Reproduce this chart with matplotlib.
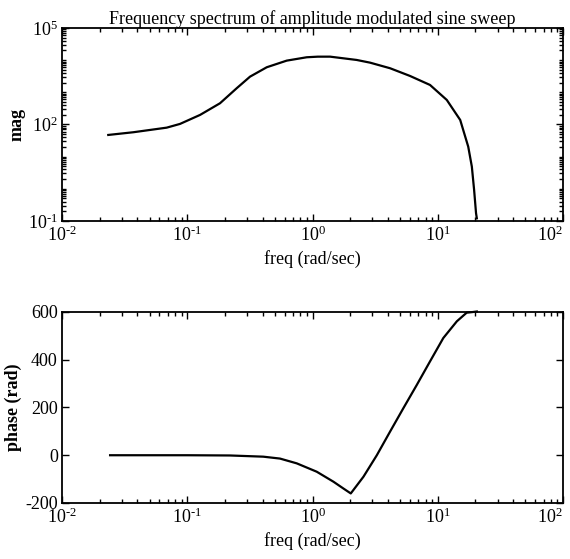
import matplotlib
matplotlib.use("Agg")
import matplotlib.pyplot as plt
from matplotlib.ticker import LogLocator, FixedLocator, NullFormatter, FuncFormatter
import numpy as np

plt.rcParams['font.family'] = ['Liberation Serif', 'DejaVu Serif']
plt.rcParams['mathtext.fontset'] = 'custom'
plt.rcParams['mathtext.rm'] = 'Liberation Serif'
plt.rcParams['mathtext.it'] = 'Liberation Serif:italic'
plt.rcParams['mathtext.bf'] = 'Liberation Serif:bold'
plt.rcParams['axes.unicode_minus'] = False

# ---- data ----
freq_mag = [0.0234, 0.0371, 0.0685, 0.0875, 0.1265, 0.1825, 0.248, 0.317, 0.431, 0.622,
            0.899, 1.10, 1.38, 2.25, 2.88, 4.16, 6.0, 8.67, 11.8, 15.1,
            17.5, 18.7, 19.5, 20.2, 20.5]
mag = [47.2, 57.3, 79.6, 104, 198, 456, 1336, 3064, 6000, 9640,
       12270, 12800, 12820, 10120, 8340, 5590, 3220, 1690, 578, 138,
       20.4, 4.9, 0.92, 0.174, 0.121]

freq_phase = [0.0242, 0.05, 0.1, 0.219, 0.404, 0.55, 0.748, 1.08, 1.47, 1.76, 2.02,
              2.55, 3.26, 4.16, 5.31, 6.79, 8.67, 11.07, 14.2, 17.0, 19.2, 20.5]
phase = [0, 0, 0, -1, -6, -14, -34, -69, -111, -139, -160,
         -90, 0, 99, 197, 294, 393, 491, 561, 597, 600, 602]

title = "Frequency spectrum of amplitude modulated sine sweep"
xlabel = "freq (rad/sec)"
ylabel_top = "mag"
ylabel_bot = "phase (rad)"
phase_ticks = [-200, 0, 200, 400, 600]
mag_ticks = [1e-1, 1e2, 1e5]

fig = plt.figure(figsize=(5.70, 5.59), dpi=100)
ax1 = fig.add_axes([0.1088, 0.6047, 0.879, 0.3453])
ax2 = fig.add_axes([0.1088, 0.1002, 0.879, 0.3417])

FS = 13


def pow_fmt(v, pos):
    e = int(round(np.log10(v)))
    if e < 0:
        return r'$10^{\text{-}%d}$' % (-e)
    return r'$10^{%d}$' % e


def style(ax):
    ax.tick_params(which='both', direction='in', top=True, right=True, labelsize=FS,
                   width=1.0, pad=3)
    ax.tick_params(which='major', length=5)
    ax.tick_params(which='minor', length=3)
    for s in ax.spines.values():
        s.set_linewidth(1.3)


# top: magnitude
ax1.loglog(freq_mag, mag, color='black', lw=1.6)
ax1.set_xlim(1e-2, 1e2)
ax1.set_ylim(1e-1, 1e5)
ax1.xaxis.set_major_locator(LogLocator(base=10, numticks=10))
ax1.xaxis.set_minor_locator(LogLocator(base=10, subs=range(2, 10), numticks=20))
ax1.yaxis.set_major_locator(FixedLocator(mag_ticks))
ax1.yaxis.set_minor_locator(LogLocator(base=10, subs=[1.0, 2, 3, 4, 5, 6, 7, 8, 9], numticks=20))
ax1.yaxis.set_minor_formatter(NullFormatter())
ax1.xaxis.set_minor_formatter(NullFormatter())
ax1.xaxis.set_major_formatter(FuncFormatter(pow_fmt))
ax1.yaxis.set_major_formatter(FuncFormatter(pow_fmt))
style(ax1)
ax1.set_title(title, fontsize=FS, pad=1)
ax1.set_xlabel(xlabel, fontsize=FS, labelpad=4)
ax1.set_ylabel(ylabel_top, fontsize=FS, fontweight='bold', labelpad=2)

# bottom: phase
ax2.semilogx(freq_phase, phase, color='black', lw=1.6, clip_on=False)
ax2.set_xlim(1e-2, 1e2)
ax2.set_ylim(-200, 600)
ax2.set_yticks(phase_ticks)
ax2.xaxis.set_major_locator(LogLocator(base=10, numticks=10))
ax2.xaxis.set_minor_locator(LogLocator(base=10, subs=range(2, 10), numticks=20))
ax2.xaxis.set_minor_formatter(NullFormatter())
ax2.xaxis.set_major_formatter(FuncFormatter(pow_fmt))
style(ax2)
ax2.set_xlabel(xlabel, fontsize=FS, labelpad=4)
ax2.set_ylabel(ylabel_bot, fontsize=FS, fontweight='bold', labelpad=2)

fig.canvas.draw()
for ax in (ax1, ax2):
    for tick in ax.xaxis.get_major_ticks():
        if abs(tick.get_loc() - 100) < 1e-6:
            tick.label1.set_horizontalalignment('right')

fig.savefig("out.png", dpi=100, facecolor='white')
